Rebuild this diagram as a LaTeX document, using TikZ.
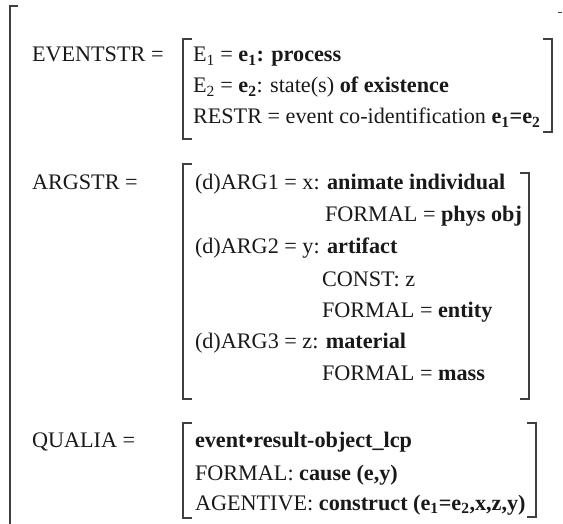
\documentclass[tikz,border=0pt]{standalone}
\usepackage{fontspec}
\setmainfont{Liberation Serif}
\begin{document}
\begin{tikzpicture}[x=1pt,y=-1pt,
  every node/.style={inner sep=0pt,outer sep=0pt,anchor=base west,
    font=\fontsize{22.2}{26}\selectfont,text=black!90},
  brk/.style={line width=1.3pt,draw=black!75},
  lbl/.style={},
  row/.style={}]
\useasboundingbox (0,0) rectangle (563,524);
\newcommand{\sbs}[1]{\textsubscript{#1}}

% outer bracket of the whole structure
\draw[brk] (18,6) -- (10,6) -- (10,524);
\draw[brk,line width=1pt] (558,13) -- (562,13);

% EVENTSTR
\node[lbl] (evl) at (32,62) {EVENTSTR =};
\node[row] (ev1) at (193,62) {E\sbs{1} = \textbf{e\sbs{1}: process}};
\node[row] (ev2) at (193,93) {E\sbs{2} = \textbf{e\sbs{2}}: state(s) \textbf{of existence}};
\node[row] (ev3) at (193,124) {RESTR = event co-identification \textbf{e\sbs{1}=e\sbs{2}}};
\draw[brk] (192,39) -- (183,39) -- (183,139) -- (192,139);
\draw[brk] (543,39) -- (552,39) -- (552,132) -- (543,132);

% ARGSTR
\node[lbl] (agl) at (32,190) {ARGSTR =};
\node[row] (ag1) at (195,190) {(d)ARG1 = x: \textbf{animate individual}};
\node[row] (ag2) at (325,222) {FORMAL = \textbf{phys obj}};
\node[row] (ag3) at (195,254) {(d)ARG2 = y: \textbf{artifact}};
\node[row] (ag4) at (322,287) {CONST: z};
\node[row] (ag5) at (322,317) {FORMAL = \textbf{entity}};
\node[row] (ag6) at (195,348) {(d)ARG3 = z: \textbf{material}};
\node[row] (ag7) at (322,380) {FORMAL = \textbf{mass}};
\draw[brk] (192,164) -- (183,164) -- (183,399) -- (192,399);
\draw[brk] (520,173) -- (529,173) -- (529,399) -- (520,399);

% QUALIA
\node[lbl] (qul) at (32,447) {QUALIA =};
\node[row] (qu1) at (195,447) {\textbf{event•result-object\_lcp}};
\node[row] (qu2) at (195,480) {FORMAL: \textbf{cause (e,y)}};
\node[row] (qu3) at (195,510) {AGENTIVE: \textbf{construct (e\sbs{1}=e\sbs{2},x,z,y)}};
\draw[brk] (192,423) -- (183,423) -- (183,518) -- (192,518);
\draw[brk] (527,423) -- (536,423) -- (536,517) -- (527,517);
\end{tikzpicture}
\end{document}
